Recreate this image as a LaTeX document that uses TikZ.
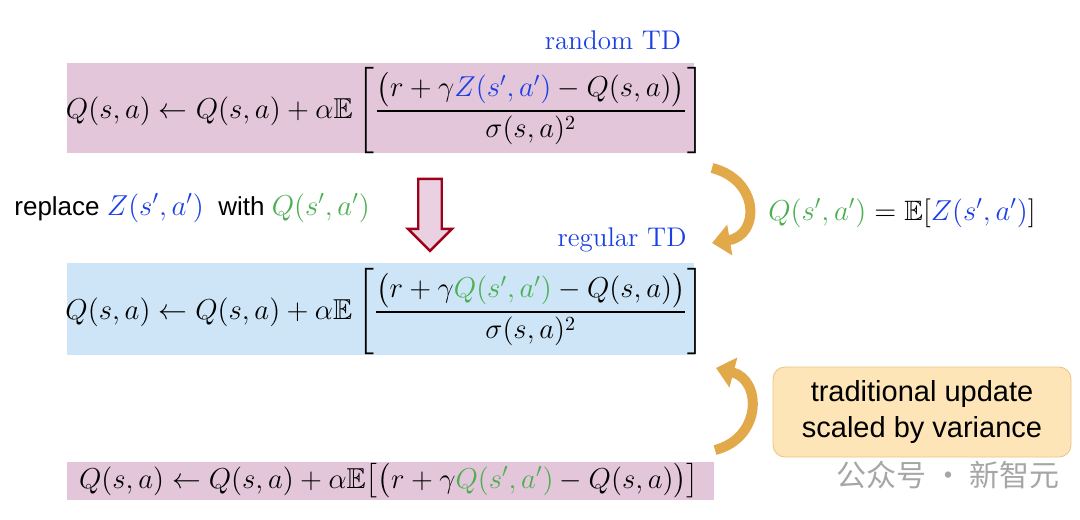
\documentclass[tikz,border=0pt]{standalone}
\usepackage{amsmath,amssymb}
\usepackage{fontspec}
\newfontfamily\sansf{Liberation Sans}
\newfontfamily\cjk{Noto Sans CJK SC}
\usetikzlibrary{shapes.arrows,arrows.meta}
\definecolor{mblue}{HTML}{1A3FE6}
\definecolor{mgreen}{HTML}{4CAF50}
\definecolor{pinkb}{HTML}{E4C6DB}
\definecolor{blueb}{HTML}{CDE5F6}
\definecolor{goldc}{HTML}{E2A94A}
\tikzset{
 eq/.style={font=\fontsize{14.4}{17}\selectfont, inner sep=0},
 lab/.style={font=\fontsize{13.5}{16}\selectfont, text=mblue, inner sep=0},
 garrow/.style={goldc, line width=5pt, -{Triangle[length=9pt,width=15pt]}},
}
\begin{document}
\begin{tikzpicture}[x=0.5pt,y=-0.5pt]
\useasboundingbox (0,0) rectangle (1080,519);
\fill[pinkb] (67,63) rectangle (694,153);
\fill[blueb] (67,263) rectangle (694,355);
\fill[pinkb] (67,462) rectangle (714,500);
\node[lab] (rt) at (613,40) {random TD};
\node[lab] (gt) at (622,240) {regular TD};
\node[eq] (e1) at (385,111) {$\displaystyle Q(s,a) \leftarrow Q(s,a) + \alpha\mathbb{E}\left[\frac{\big(r+\gamma {\color{mblue}Z(s',a')} - Q(s,a)\big)}{\sigma(s,a)^2}\right]$};
\node[eq] (e2) at (385,312) {$\displaystyle Q(s,a) \leftarrow Q(s,a) + \alpha\mathbb{E}\left[\frac{\big(r+\gamma {\color{mgreen}Q(s',a')} - Q(s,a)\big)}{\sigma(s,a)^2}\right]$};
\node[eq] (e3) at (389,481) {$Q(s,a) \leftarrow Q(s,a) + \alpha\mathbb{E}\big[\big(r+\gamma {\color{mgreen}Q(s',a')} - Q(s,a)\big)\big]$};
\node[anchor=west, inner sep=0, font=\fontsize{13}{16}\sansf] (rep) at (14,208) {replace {\fontsize{14}{17}\selectfont$\color{mblue}Z(s',a')$}\ \ with {\fontsize{14}{17}\selectfont$\color{mgreen}Q(s',a')$}};
\node[single arrow, shape border rotate=270, draw=black!40!purple!70!red, fill=pinkb!80, line width=1.2pt,
  minimum height=36pt, minimum width=22pt, single arrow head extend=4pt, single arrow tip angle=90, inner sep=4pt] (da) at (430,209) {};
\node[eq, anchor=west, font=\fontsize{14}{17}\selectfont] (qe) at (768,213) {$\color{mgreen}Q(s',a') \color{black}= \mathbb{E}[\color{mblue}Z(s',a')\color{black}]$};
\coordinate (a1s) at (712,168);
\coordinate (a1e) at (712,243);
\draw[garrow] (a1s) .. controls (760,180) and (760,235) .. (a1e);
\coordinate (a2s) at (715,450);
\coordinate (a2e) at (716,368);
\draw[garrow] (a2s) .. controls (762,438) and (762,380) .. (a2e);
\node[draw=goldc!70, fill=yellow!25!orange!25, rounded corners=6pt, minimum width=149pt, minimum height=45pt, align=center,
  font=\fontsize{14.5}{18}\sansf, inner sep=2pt] (tb) at (922,412) {traditional update\\scaled by variance};
\node[text=black!35, font=\fontsize{15}{18}\cjk, anchor=west, inner sep=0] (wm) at (836,475) {公众号 · 新智元};
\end{tikzpicture}
\end{document}
